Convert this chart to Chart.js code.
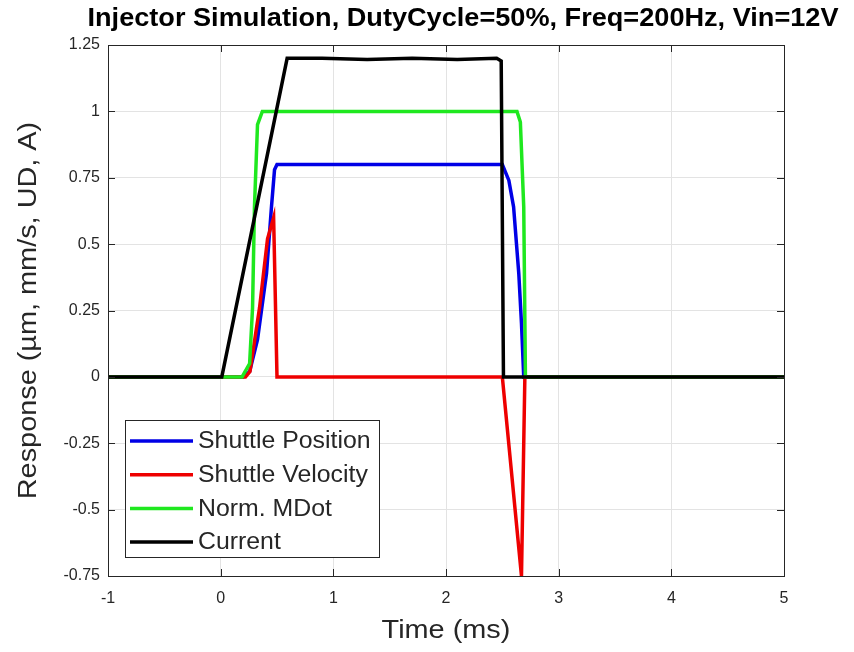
<!DOCTYPE html>
<html>
<head>
<meta charset="utf-8">
<script src="https://cdn.jsdelivr.net/npm/chart.js@4/dist/chart.umd.min.js"></script>
<style>
  body { margin: 0; background: #fff; }
  #wrap { width: 854px; height: 652px; position: relative; }
</style>
</head>
<body>
<div id="wrap"><canvas id="chart"></canvas></div>
<script>
const FONT = "'Liberation Sans', Arial, sans-serif";
const INK = "#262626";

const TITLE = "Injector Simulation, DutyCycle=50%, Freq=200Hz, Vin=12V";
const X_LABEL = "Time (ms)";
const Y_LABEL = "Response (\u00b5m, mm/s, UD, A)";

// time (ms) / value pairs
const positionT = [-1, 0.2, 0.257, 0.327, 0.407, 0.451, 0.478, 0.5, 2.5, 2.558, 2.6, 2.646, 2.67, 2.69, 5];
const positionV = [0, 0, 0.02, 0.14, 0.39, 0.64, 0.78, 0.8, 0.8, 0.74, 0.64, 0.39, 0.2, 0, 0];

const velocityT = [-1, 0.22, 0.26, 0.345, 0.416, 0.47, 0.5, 2.5, 2.67, 2.7, 5];
const velocityV = [0, 0, 0.02, 0.26, 0.52, 0.6, 0, 0, -0.75, 0, 0];

const mdotT = [-1, 0.19, 0.257, 0.283, 0.3, 0.327, 0.37, 2.63, 2.66, 2.69, 2.705, 5];
const mdotV = [0, 0, 0.05, 0.26, 0.64, 0.95, 1, 1, 0.96, 0.64, 0, 0];

const currentT = [-1, 0.01, 0.59, 0.9, 1.3, 1.7, 2.1, 2.45, 2.49, 2.51, 5];
const currentV = [0, 0, 1.2, 1.2, 1.195, 1.2, 1.195, 1.2, 1.19, 0, 0];

function points(ts, vs) {
    return ts.map((t, i) => ({ x: t, y: vs[i] }));
}

function series(label, ts, vs, color, order) {
    return {
        label: label,
        data: points(ts, vs),
        borderColor: color,
        backgroundColor: color,
        borderWidth: 3.5,
        pointRadius: 0,
        showLine: true,
        tension: 0,
        order: order,
    };
}

// text a bit wider than the font gives, like the reference
function wideText(ctx, text, x, y, stretch, rotate) {
    ctx.save();
    ctx.translate(x, y);
    if (rotate) {
        ctx.rotate(-Math.PI / 2);
    }
    ctx.scale(stretch, 1);
    ctx.fillText(text, 0, 0);
    ctx.restore();
}

const decorations = {
    id: "decorations",
    afterDraw(chart) {
        const ctx = chart.ctx;
        const area = chart.chartArea;
        const xs = chart.scales.x;
        const ys = chart.scales.y;

        // inward ticks and box
        ctx.save();
        ctx.strokeStyle = INK;
        ctx.lineWidth = 1;
        ctx.beginPath();
        xs.ticks.forEach((t) => {
            const px = Math.round(xs.getPixelForValue(t.value)) + 0.5;
            ctx.moveTo(px, area.bottom); ctx.lineTo(px, area.bottom - 7);
            ctx.moveTo(px, area.top); ctx.lineTo(px, area.top + 7);
        });
        ys.ticks.forEach((t) => {
            const py = Math.round(ys.getPixelForValue(t.value)) + 0.5;
            ctx.moveTo(area.left, py); ctx.lineTo(area.left + 7, py);
            ctx.moveTo(area.right, py); ctx.lineTo(area.right - 7, py);
        });
        ctx.stroke();
        ctx.strokeRect(Math.round(area.left) + 0.5, Math.round(area.top) + 0.5,
            Math.round(area.right - area.left), Math.round(area.bottom - area.top));
        ctx.restore();

        // title and axis titles
        ctx.save();
        ctx.textAlign = "center";
        ctx.textBaseline = "middle";
        ctx.fillStyle = "#000";
        ctx.font = "bold 25px " + FONT;
        wideText(ctx, TITLE, 463, 19, 1.085, false);

        ctx.fillStyle = INK;
        ctx.font = "26px " + FONT;
        wideText(ctx, X_LABEL, 446, 631, 1.11, false);
        wideText(ctx, Y_LABEL, 29, (area.top + area.bottom) / 2, 1.11, true);
        ctx.restore();

        // legend inside the plot, lower left
        const box = { left: 125, top: 420, right: 379, bottom: 557 };
        ctx.save();
        ctx.fillStyle = "#fff";
        ctx.fillRect(box.left, box.top, box.right - box.left, box.bottom - box.top);
        ctx.strokeStyle = INK;
        ctx.lineWidth = 1;
        ctx.strokeRect(box.left + 0.5, box.top + 0.5, box.right - box.left, box.bottom - box.top);
        ctx.font = "23px " + FONT;
        ctx.textAlign = "left";
        ctx.textBaseline = "middle";
        chart.data.datasets.forEach((ds, i) => {
            const y = 441 + i * 33.7;
            ctx.strokeStyle = ds.borderColor;
            ctx.lineWidth = 3.5;
            ctx.beginPath();
            ctx.moveTo(130, y);
            ctx.lineTo(193, y);
            ctx.stroke();
            ctx.fillStyle = INK;
            wideText(ctx, ds.label, 198, y + 1, 1.08, false);
        });
        ctx.restore();
    },
};

new Chart(document.getElementById("chart"), {
    type: "scatter",
    data: {
        datasets: [
            series("Shuttle Position", positionT, positionV, "#0000e6", 3),
            series("Shuttle Velocity", velocityT, velocityV, "#ee0000", 2),
            series("Norm. MDot", mdotT, mdotV, "#1fe81f", 1),
            series("Current", currentT, currentV, "#000000", 0),
        ],
    },
    options: {
        responsive: true,
        maintainAspectRatio: false,
        animation: false,
        layout: { padding: { top: 45, right: 70, bottom: 0, left: 0 } },
        plugins: {
            legend: { display: false },
            tooltip: { enabled: false },
        },
        scales: {
            x: {
                type: "linear",
                min: -1,
                max: 5,
                afterFit(scale) { scale.height = 76; },
                grid: { color: "#e3e3e3", drawTicks: false },
                border: { display: false },
                ticks: {
                    stepSize: 1,
                    autoSkip: false,
                    maxRotation: 0,
                    padding: 13,
                    color: INK,
                    font: { family: FONT, size: 16 },
                },
            },
            y: {
                min: -0.75,
                max: 1.25,
                afterFit(scale) { scale.width = 108; },
                grid: { color: "#e3e3e3", drawTicks: false },
                border: { display: false },
                ticks: {
                    stepSize: 0.25,
                    autoSkip: false,
                    padding: 8,
                    color: INK,
                    font: { family: FONT, size: 16 },
                    callback: (v) => String(Number(v.toFixed(2))),
                },
            },
        },
    },
    plugins: [decorations],
});
</script>
</body>
</html>
